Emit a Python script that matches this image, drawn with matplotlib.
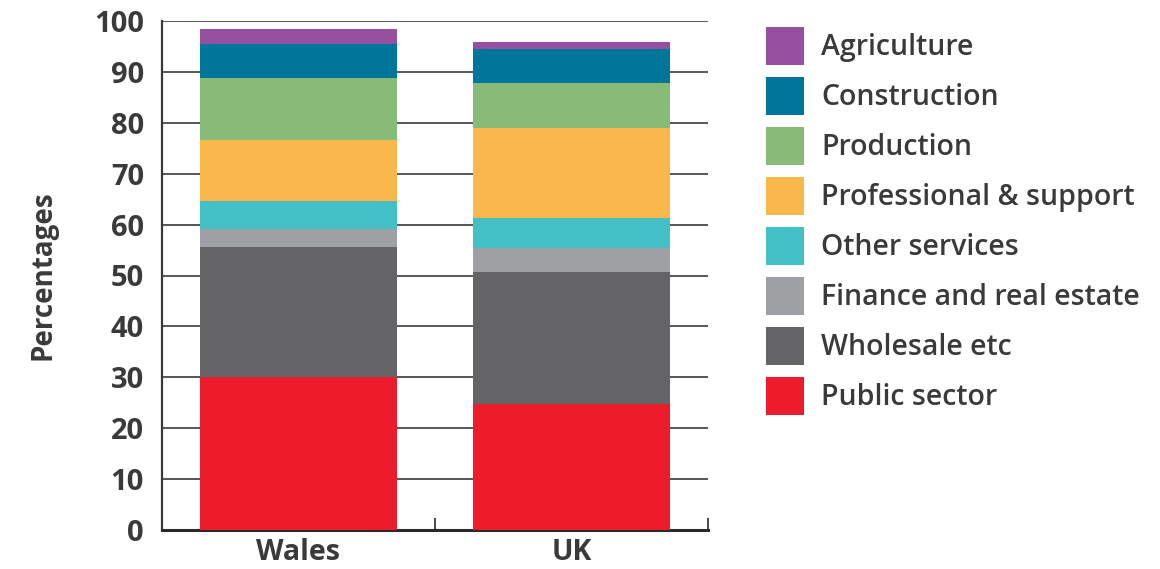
import matplotlib.pyplot as plt
import numpy as np

plt.rcParams['font.family'] = ['Open Sans', 'DejaVu Sans']

regions = ['Wales', 'UK']
sectors = ['Public sector', 'Wholesale etc', 'Finance and real estate', 'Other services',
           'Professional & support', 'Production', 'Construction', 'Agriculture']
wales = [30.0, 25.6, 3.5, 5.5, 12.0, 12.2, 6.7, 2.9]
uk = [24.8, 25.8, 4.9, 5.8, 17.7, 8.8, 6.7, 1.4]
colours = ['#EC1C2B', '#646466', '#9FA0A3', '#42C0C5',
           '#F9B74C', '#87BB77', '#00769A', '#9650A0']

text_col = '#3a3a3a'

fig = plt.figure(figsize=(11.6, 5.69), dpi=100)
ax = fig.add_axes([162 / 1160, 1 - 530 / 569, 546 / 1160, 509 / 569])

x = np.array([0.5, 1.5])
values = np.array([wales, uk]).T
bottom = np.zeros(2)
handles = []
for name, vals, col in zip(sectors, values, colours):
    b = ax.bar(x, vals, bottom=bottom, width=0.72, color=col, label=name, zorder=3)
    handles.append(b)
    bottom += vals

ax.set_xlim(0, 2)
ax.set_ylim(0, 100)
ax.set_yticks(range(0, 101, 10))
ax.grid(axis='y', color='#4a4a4a', linewidth=1.3, zorder=0)
ax.set_axisbelow(True)

ax.set_xticks(x)
ax.set_xticklabels(regions)
ax.set_xticks([1, 2], minor=True)
ax.tick_params(axis='x', which='major', length=0, pad=6, labelsize=20.5, labelcolor=text_col)
ax.tick_params(axis='x', which='minor', direction='in', length=9, width=1.3, color='#3a3a3a')
ax.tick_params(axis='y', length=0, pad=13, labelsize=21, labelcolor=text_col)
for lab in ax.get_xticklabels() + ax.get_yticklabels():
    lab.set_fontweight('bold')

for side in ['top', 'right']:
    ax.spines[side].set_visible(False)
ax.spines['left'].set_color('#3a3a3a')
ax.spines['left'].set_linewidth(1.6)
ax.spines['bottom'].set_color('#2a2a2a')
ax.spines['bottom'].set_linewidth(2.2)

ax.set_ylabel('Percentages', fontsize=20, fontweight='bold', color=text_col, labelpad=26)

leg = fig.legend(handles[::-1], sectors[::-1], loc='upper left',
                 bbox_to_anchor=(766 / 1160, 1 - 27 / 569), frameon=False,
                 fontsize=20.5, handlelength=1.34, handleheight=1.68,
                 handletextpad=0.6, labelspacing=0.42, borderpad=0, borderaxespad=0)
for t in leg.get_texts():
    t.set_color(text_col)
    t.set_fontweight('semibold')

fig.savefig('out.png', dpi=100)
